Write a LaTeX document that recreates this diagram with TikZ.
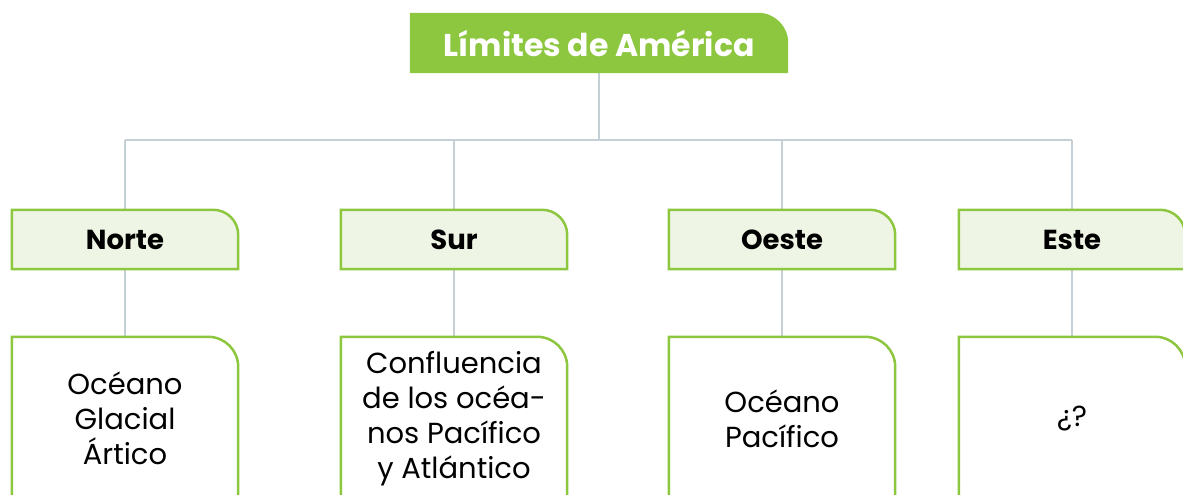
\documentclass[tikz,border=0pt]{standalone}
\usepackage{fontspec}
\setmainfont{Poppins}
\usetikzlibrary{backgrounds}
\definecolor{lgreen}{HTML}{8DC63F}
\definecolor{pale}{HTML}{EEF5E4}
\definecolor{connc}{HTML}{C5D0D6}
\begin{document}
\begin{tikzpicture}[x=1pt,y=1pt,
  titlebox/.style={minimum width=378pt,minimum height=60pt,inner sep=0pt,text=white,font=\fontsize{31.5}{36}\selectfont\bfseries},
  hdr/.style={minimum width=226pt,minimum height=59pt,inner sep=0pt,font=\fontsize{27.5}{32}\selectfont\bfseries},
  body/.style={minimum width=226pt,minimum height=163pt,inner sep=0pt,align=center,font=\fontsize{29}{35}\selectfont},
  conn/.style={draw=connc,line width=2.5pt},
  hdrshape/.style={draw=lgreen,fill=pale,line width=2.5pt},
  bodyshape/.style={draw=lgreen,fill=white,line width=2.5pt}]
\useasboundingbox (0,0) rectangle (1183,495);
\node[titlebox] (title) at (599,452) {Límites de América};
\node[hdr] (norte) at (125,255.5) {Norte};
\node[hdr] (sur) at (454,255.5) {Sur};
\node[hdr] (oeste) at (782,255.5) {Oeste};
\node[hdr] (este) at (1072,255.5) {Este};
\node[body] (bn) at (125,76.5) {Océano\\Glacial\\Ártico};
\node[body] (bs) at (454,76.5) {Confluencia\\de los océa-\\nos Pacífico\\y Atlántico};
\node[body] (bo) at (782,76.5) {Océano\\Pacífico};
\node[body] (be) at (1072,76.5) {¿?};
\coordinate (busL) at (125,355);
\coordinate (busR) at (1072,355);
\begin{scope}[on background layer]
  \draw[conn] (busL) -- (busR);
  \draw[conn] (title.south) -- (title.south |- busL);
  \foreach \h/\b in {norte/bn,sur/bs,oeste/bo,este/be}{
    \draw[conn] (\h.north |- busL) -- (\h.north);
    \draw[conn] (\h.south) -- (\b.north);
  }
  \fill[lgreen] (title.south west) -- (title.north west) -- ([xshift=-30pt]title.north east) arc[start angle=90,end angle=0,radius=30pt] -- (title.south east) -- cycle;
  \foreach \n in {norte,sur,oeste,este}
    \draw[hdrshape] (\n.south west) -- (\n.north west) -- ([xshift=-25pt]\n.north east) arc[start angle=90,end angle=0,radius=25pt] -- (\n.south east) -- cycle;
  \foreach \n in {bn,bs,bo,be}
    \draw[bodyshape] (\n.south west) -- (\n.north west) -- ([xshift=-30pt]\n.north east) arc[start angle=90,end angle=0,radius=30pt] -- (\n.south east) -- cycle;
\end{scope}
\end{tikzpicture}
\end{document}
